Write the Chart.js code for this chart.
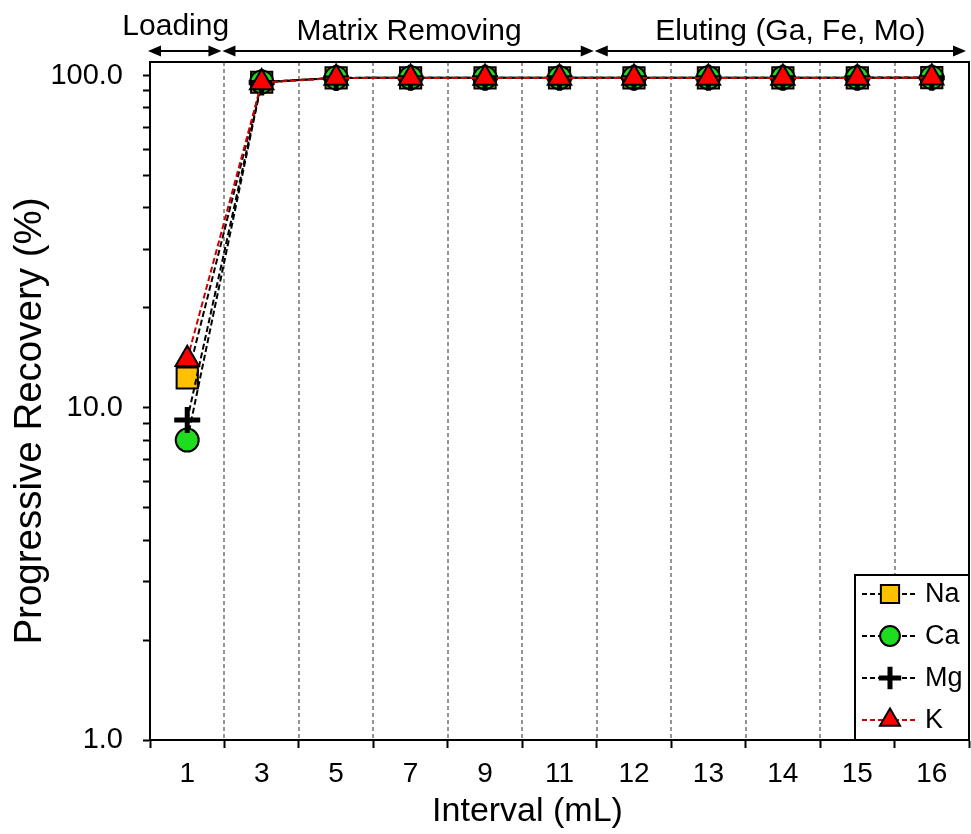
<!DOCTYPE html>
<html><head><meta charset="utf-8">
<script src="https://cdn.jsdelivr.net/npm/chart.js@4/dist/chart.umd.min.js"></script>
<style>html,body{margin:0;padding:0;background:#fff;overflow:hidden;}#wrap{width:971px;height:834px;position:relative;}canvas{display:block;}</style>
</head><body><div id="wrap"><canvas id="c" width="971" height="834"></canvas></div>
<script>
const intervals = ['1','3','5','7','9','11','12','13','14','15','16'];
const naValues = [12.3, 95.6, 98.5, 98.6, 98.6, 98.6, 98.6, 98.6, 98.6, 98.6, 98.7];
const caValues = [8.0, 95.8, 98.6, 98.7, 98.7, 98.7, 98.7, 98.7, 98.7, 98.7, 98.8];
const mgValues = [9.2, 95.5, 98.5, 98.6, 98.6, 98.6, 98.6, 98.6, 98.6, 98.6, 98.6];
const kValues  = [14.0, 95.4, 98.4, 98.5, 98.5, 98.5, 98.5, 98.5, 98.5, 98.5, 98.6];
const yTickValues = [1,2,3,4,5,6,7,8,9,10,20,30,40,50,60,70,80,90,100];
const phaseLabels = ['Loading', 'Matrix Removing', 'Eluting (Ga, Fe, Mo)'];
const phaseStart = [0, 1, 6];
const phaseEnd = [0, 5, 10];
const legendOrder = [0, 1, 2, 3];

const FONT = "'Liberation Sans', Arial, sans-serif";
const PHASE_TEXT_SHIFT = [-9, 1, 10];
const PHASE_TEXT_Y = [27, 32, 32];

function drawMarker(ctx, style, x, y, r, fill, stroke, bw) {
  ctx.save();
  ctx.setLineDash([]);
  ctx.fillStyle = fill; ctx.strokeStyle = stroke; ctx.lineWidth = bw;
  ctx.beginPath();
  if (style === 'rect') {
    const s = r * Math.SQRT1_2;
    ctx.rect(x - s, y - s, 2 * s, 2 * s);
    ctx.fill(); ctx.stroke();
  } else if (style === 'circle') {
    ctx.arc(x, y, r, 0, Math.PI * 2);
    ctx.fill(); ctx.stroke();
  } else if (style === 'triangle') {
    for (let i = 0; i < 3; i++) {
      const a = i * 2 * Math.PI / 3;
      const px = x + Math.sin(a) * r, py = y - Math.cos(a) * r;
      if (i === 0) ctx.moveTo(px, py); else ctx.lineTo(px, py);
    }
    ctx.closePath(); ctx.fill(); ctx.stroke();
  } else if (style === 'cross') {
    ctx.moveTo(x - r, y); ctx.lineTo(x + r, y);
    ctx.moveTo(x, y - r); ctx.lineTo(x, y + r);
    ctx.stroke();
  }
  ctx.restore();
}

const decor = {
  id: 'decor',
  beforeDatasetsDraw(chart) {
    const {ctx, chartArea: a, scales: {x}} = chart;
    ctx.save();
    ctx.strokeStyle = '#959595'; ctx.lineWidth = 2; ctx.setLineDash([4, 3]);
    for (let i = 0; i < intervals.length - 1; i++) {
      const px = Math.round((x.getPixelForValue(i) + x.getPixelForValue(i + 1)) / 2);
      ctx.beginPath(); ctx.moveTo(px, a.top); ctx.lineTo(px, a.bottom); ctx.stroke();
    }
    ctx.restore();
  },
  afterDraw(chart) {
    const {ctx, chartArea: a, scales: {x}} = chart;
    ctx.save();
    // frame
    ctx.strokeStyle = '#000'; ctx.lineWidth = 2; ctx.setLineDash([]);
    ctx.strokeRect(a.left, a.top, a.right - a.left, a.bottom - a.top);
    // phase arrows
    const half = (x.getPixelForValue(1) - x.getPixelForValue(0)) / 2;
    const ay = a.top - 11;
    for (let p = 0; p < phaseLabels.length; p++) {
      const x1 = x.getPixelForValue(phaseStart[p]) - half - 2;
      const x2 = x.getPixelForValue(phaseEnd[p]) + half - 3;
      ctx.strokeStyle = '#000'; ctx.fillStyle = '#000'; ctx.lineWidth = 2;
      ctx.beginPath(); ctx.moveTo(x1 + 6, ay); ctx.lineTo(x2 - 6, ay); ctx.stroke();
      ctx.beginPath(); ctx.moveTo(x1, ay); ctx.lineTo(x1 + 13, ay - 5.5); ctx.lineTo(x1 + 13, ay + 5.5); ctx.closePath(); ctx.fill();
      ctx.beginPath(); ctx.moveTo(x2, ay); ctx.lineTo(x2 - 13, ay - 5.5); ctx.lineTo(x2 - 13, ay + 5.5); ctx.closePath(); ctx.fill();
      ctx.font = '30px ' + FONT; ctx.textAlign = 'center'; ctx.textBaseline = 'middle';
      ctx.fillText(phaseLabels[p], (x1 + x2) / 2 + PHASE_TEXT_SHIFT[p], PHASE_TEXT_Y[p]);
    }
    // y title
    ctx.save();
    ctx.translate(30, (a.top + a.bottom) / 2 + 20);
    ctx.rotate(-Math.PI / 2);
    ctx.font = '38.5px ' + FONT; ctx.textAlign = 'center'; ctx.textBaseline = 'middle'; ctx.fillStyle = '#000';
    ctx.fillText('Progressive Recovery (%)', 0, 0);
    ctx.restore();
    // x title
    ctx.font = '34px ' + FONT; ctx.textAlign = 'center'; ctx.textBaseline = 'middle'; ctx.fillStyle = '#000';
    ctx.fillText('Interval (mL)', (a.left + a.right) / 2 - 32, a.bottom + 72);
    // legend
    const bw = 114, bh = 165;
    const bx = a.right - bw, by = a.bottom - bh;
    ctx.fillStyle = '#fff'; ctx.fillRect(bx, by, bw, bh);
    ctx.strokeStyle = '#000'; ctx.lineWidth = 2; ctx.strokeRect(bx, by, bw, bh);
    legendOrder.forEach((di, i) => {
      const ds = chart.data.datasets[di];
      const ly = by + 19 + i * 42;
      ctx.strokeStyle = ds.borderColor; ctx.lineWidth = 2; ctx.setLineDash([5, 3]);
      ctx.beginPath(); ctx.moveTo(bx + 7, ly); ctx.lineTo(bx + 63, ly); ctx.stroke();
      ctx.setLineDash([]);
      drawMarker(ctx, ds.pointStyle, bx + 35, ly, ds.pointRadius * 0.86, ds.pointBackgroundColor, ds.pointBorderColor, ds.pointBorderWidth);
      ctx.fillStyle = '#000'; ctx.font = '27px ' + FONT; ctx.textAlign = 'left'; ctx.textBaseline = 'middle';
      ctx.fillText(ds.label, bx + 70, ly + 1);
    });
    ctx.restore();
  }
};

function mkSet(label, data, style, fill, line, r, bwid, order) {
  return {
    label, data, order,
    borderColor: line, borderWidth: 2, borderDash: [6, 3],
    pointStyle: style, pointRadius: r, pointHoverRadius: r,
    pointBackgroundColor: fill, pointBorderColor: '#000', pointBorderWidth: bwid,
    fill: false, tension: 0, clip: false
  };
}

new Chart(document.getElementById('c'), {
  type: 'line',
  data: {
    labels: intervals,
    datasets: [
      mkSet('Na', naValues, 'rect', '#FFC000', '#000', 15, 2, 4),
      mkSet('Ca', caValues, 'circle', '#1EDC1E', '#000', 11.5, 2, 3),
      mkSet('Mg', mgValues, 'cross', '#000', '#000', 13, 5, 2),
      mkSet('K', kValues, 'triangle', '#FF0000', '#D00000', 13.5, 2, 1)
    ]
  },
  options: {
    responsive: false, animation: false, devicePixelRatio: 1,
    layout: {autoPadding: false, padding: {top: 62, right: 2, left: 0, bottom: 0}},
    plugins: {legend: {display: false}, tooltip: {enabled: false}},
    scales: {
      x: {
        type: 'category', offset: true,
        grid: {offset: true, drawOnChartArea: false, drawTicks: true, tickLength: 8, tickColor: '#000', tickWidth: 2},
        border: {display: true, color: '#000', width: 2},
        ticks: {color: '#000', font: {family: FONT, size: 28}, padding: 9, maxRotation: 0, autoSkip: false},
        title: {display: false, text: 'Interval (mL)'},
        afterFit(s) { s.height = 94; }
      },
      y: {
        type: 'logarithmic', min: 1, max: 110,
        grid: {drawOnChartArea: false, drawTicks: true, tickLength: 7, tickColor: '#000', tickWidth: 2},
        border: {display: true, color: '#000', width: 2},
        afterBuildTicks(s) { s.ticks = yTickValues.map(v => ({value: v})); },
        ticks: {
          color: '#000', font: {family: FONT, size: 29}, padding: 20, autoSkip: false,
          callback(v) { const e = Math.log10(v); return Math.abs(e - Math.round(e)) < 1e-9 ? Number(v).toFixed(1) : ''; }
        },
        afterFit(s) { s.width = 150; }
      }
    }
  },
  plugins: [decor]
});
</script></body></html>
